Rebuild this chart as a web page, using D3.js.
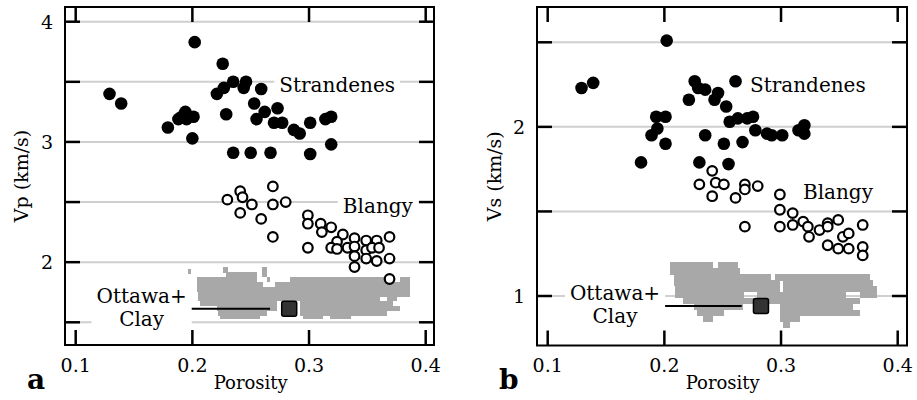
<!DOCTYPE html>
<html>
<head>
<meta charset="utf-8">
<script src="https://cdn.jsdelivr.net/npm/d3@7"></script>
<style>
  body { margin: 0; background: #fff; }
</style>
</head>
<body>
<svg width="917" height="400"></svg>
<script>
// porosity vs velocity, two panels (Vp, Vs)
var svg = d3.select('svg').style('font-family', "'DejaVu Serif', serif");

// x tick values, shared by both panels
var xTicks = [0.1, 0.2, 0.3, 0.4];
var vpTicks = [1.5, 2, 2.5, 3, 3.5, 4];
var vpTickLabels = [2, 3, 4];
var vsTicks = [1, 1.5, 2, 2.5];
var vsTickLabels = [1, 2];

// Strandenes (filled), [porosity, Vp]
var strandenesVp = [
  [0.202,3.83],[0.226,3.65],[0.129,3.40],[0.139,3.32],[0.221,3.40],[0.227,3.45],
  [0.235,3.50],[0.246,3.50],[0.244,3.45],[0.259,3.44],[0.253,3.32],[0.262,3.25],
  [0.273,3.28],[0.255,3.19],[0.270,3.16],[0.277,3.16],[0.287,3.10],[0.292,3.07],
  [0.301,3.16],[0.314,3.19],[0.319,3.21],[0.319,2.98],[0.301,2.90],[0.267,2.91],
  [0.250,2.91],[0.235,2.91],[0.200,3.03],[0.229,3.23],[0.179,3.12],[0.188,3.19],
  [0.194,3.25],[0.195,3.19],[0.201,3.21],[0.191,3.21]
];
// Blangy (open), [porosity, Vp]
var blangyVp = [
  [0.269,2.63],[0.241,2.59],[0.243,2.54],[0.230,2.52],[0.251,2.48],[0.269,2.48],
  [0.280,2.50],[0.241,2.41],[0.259,2.36],[0.269,2.21],[0.299,2.39],[0.299,2.32],
  [0.299,2.12],[0.310,2.32],[0.311,2.25],[0.319,2.29],[0.329,2.23],[0.324,2.17],
  [0.319,2.12],[0.324,2.11],[0.333,2.12],[0.339,2.20],[0.349,2.18],[0.358,2.18],
  [0.369,2.21],[0.339,2.13],[0.349,2.10],[0.354,2.12],[0.360,2.12],[0.339,2.05],
  [0.349,2.03],[0.358,2.01],[0.369,2.03],[0.339,1.96],[0.369,1.86]
];
// Ottawa sand + clay cloud, rows of [Vp, porosity from, porosity to]
var ottawaVpRows = [
  [1.935,0.2265,0.2308],[1.935,0.2594,0.2637],[1.925,0.196,0.199],
  [1.895,0.2308,0.2551],[1.895,0.2290,0.2330],[1.895,0.2600,0.2640],
  [1.855,0.2037,0.2551],[1.855,0.2637,0.2665],[1.855,0.2837,0.3666],[1.855,0.378,0.3866],
  [1.815,0.2037,0.2608],[1.815,0.2708,0.3866],
  [1.775,0.2037,0.3866],
  [1.735,0.2051,0.3866],
  [1.695,0.2051,0.3608],[1.695,0.3666,0.3751],
  [1.655,0.2065,0.2723],[1.655,0.2922,0.3722],
  [1.615,0.2209,0.2723],[1.615,0.2922,0.378],
  [1.575,0.2222,0.2637],[1.575,0.2922,0.3666],
  [1.550,0.2237,0.258],[1.550,0.2950,0.312],[1.550,0.318,0.336]
];
var ottawaVpMean = [0.283, 1.612];
var ottawaVpLine = [0.1965, 0.2666];

// Strandenes (filled), [porosity, Vs]
var strandenesVs = [
  [0.202,2.51],[0.129,2.23],[0.139,2.26],[0.226,2.27],[0.229,2.23],[0.235,2.22],
  [0.246,2.20],[0.261,2.27],[0.221,2.16],[0.243,2.16],[0.253,2.12],[0.193,2.06],
  [0.201,2.06],[0.194,1.99],[0.189,1.95],[0.201,1.90],[0.256,2.03],[0.263,2.05],
  [0.271,2.05],[0.276,2.06],[0.278,1.98],[0.288,1.96],[0.292,1.95],[0.301,1.95],
  [0.315,1.98],[0.320,2.01],[0.320,1.96],[0.235,1.95],[0.251,1.90],[0.267,1.91],
  [0.180,1.79],[0.230,1.79],[0.255,1.78]
];
// Blangy (open), [porosity, Vs]
var blangyVs = [
  [0.241,1.74],[0.230,1.66],[0.244,1.67],[0.251,1.66],[0.269,1.66],[0.280,1.65],
  [0.269,1.63],[0.241,1.59],[0.261,1.58],[0.269,1.41],[0.299,1.60],[0.299,1.51],
  [0.299,1.41],[0.310,1.49],[0.310,1.42],[0.319,1.44],[0.323,1.41],[0.324,1.35],
  [0.333,1.39],[0.340,1.43],[0.340,1.41],[0.349,1.45],[0.340,1.30],[0.349,1.28],
  [0.353,1.35],[0.358,1.37],[0.358,1.28],[0.370,1.42],[0.370,1.29],[0.370,1.24]
];
// Ottawa sand + clay cloud, rows of [Vs, porosity from, porosity to]
var ottawaVsRows = [
  [1.180,0.205,0.242],[1.180,0.246,0.263],
  [1.145,0.205,0.265],
  [1.110,0.208,0.291],[1.110,0.295,0.376],
  [1.075,0.208,0.299],[1.075,0.302,0.379],
  [1.040,0.209,0.299],[1.040,0.302,0.382],
  [1.005,0.209,0.268],[1.005,0.279,0.356],[1.005,0.368,0.382],
  [0.970,0.216,0.282],[0.970,0.288,0.368],
  [0.935,0.225,0.267],[0.935,0.299,0.362],
  [0.900,0.228,0.251],[0.900,0.299,0.368],
  [0.865,0.233,0.242],[0.865,0.299,0.316],
  [0.830,0.302,0.308]
];
var ottawaVsMean = [0.2828, 0.941];
var ottawaVsLine = [0.1963, 0.2663];


function drawPanel(o) {
  var g = svg.append('g');
  var x = d3.scaleLinear().domain([0.1, 0.4]).range(o.xr);
  var y = d3.scaleLinear().domain(o.yd).range(o.yr);
  var f = o.frame, tl = 15;

  // grid lines
  g.selectAll('.grid').data(o.yTicks).enter().append('line')
    .attr('x1', f.l + tl).attr('x2', f.r - tl)
    .attr('y1', d => y(d)).attr('y2', d => y(d))
    .attr('stroke', '#cfcfcf').attr('stroke-width', 2);

  // label text with white box behind it (breaks the grid lines)
  var labels = g.append('g');
  o.labels.forEach(function (lb) {
    var lg = labels.append('g');
    lb.lines.forEach(function (s, i) {
      lg.append('text')
        .attr('x', x(lb.p)).attr('y', y(lb.v) + i * 23)
        .attr('text-anchor', lb.anchor)
        .attr('font-size', 20)
        .text(s);
    });
    var bb = lg.node().getBBox();
    lg.insert('rect', 'text')
      .attr('x', bb.x - 5).attr('y', bb.y - 1)
      .attr('width', bb.width + 10).attr('height', bb.height + 2)
      .attr('fill', '#fff');
  });

  // gray cloud, rows drawn edge to edge
  g.append('g').attr('shape-rendering', 'crispEdges')
    .selectAll('rect').data(o.cloud).enter().append('rect')
    .attr('x', d => x(d[1]))
    .attr('width', d => Math.max(3, x(d[2]) - x(d[1])))
    .attr('y', d => y(d[0]) - o.rowH / 2)
    .attr('height', o.rowH)
    .attr('fill', '#a8a8a8');

  // leader line + mean square
  g.append('line')
    .attr('x1', x(o.line[0])).attr('x2', x(o.line[1]))
    .attr('y1', y(o.mean[1])).attr('y2', y(o.mean[1]))
    .attr('stroke', '#000').attr('stroke-width', 2);
  g.append('rect')
    .attr('x', x(o.mean[0]) - 7.5).attr('y', y(o.mean[1]) - 7.5)
    .attr('width', 15).attr('height', 15).attr('rx', 2)
    .attr('fill', '#333').attr('stroke', '#000').attr('stroke-width', 1.5);

  g.selectAll('.blangy').data(o.open).enter().append('circle')
    .attr('cx', d => x(d[0])).attr('cy', d => y(d[1])).attr('r', 4.8)
    .attr('fill', '#fff').attr('stroke', '#000').attr('stroke-width', 2.2);

  g.selectAll('.strand').data(o.filled).enter().append('circle')
    .attr('cx', d => x(d[0])).attr('cy', d => y(d[1])).attr('r', 6.3)
    .attr('fill', '#000');

  labels.raise();

  // frame and ticks
  g.append('rect')
    .attr('x', f.l).attr('y', f.t).attr('width', f.r - f.l).attr('height', f.b - f.t)
    .attr('fill', 'none').attr('stroke', '#000').attr('stroke-width', 2);
  o.yTicks.forEach(function (t) {
    g.append('line').attr('x1', f.l).attr('x2', f.l + tl).attr('y1', y(t)).attr('y2', y(t))
      .attr('stroke', '#000').attr('stroke-width', 2.5);
    g.append('line').attr('x1', f.r - tl).attr('x2', f.r).attr('y1', y(t)).attr('y2', y(t))
      .attr('stroke', '#000').attr('stroke-width', 2.5);
  });
  xTicks.forEach(function (t) {
    g.append('line').attr('x1', x(t)).attr('x2', x(t)).attr('y1', f.b).attr('y2', f.b - tl)
      .attr('stroke', '#000').attr('stroke-width', 2.5);
    g.append('line').attr('x1', x(t)).attr('x2', x(t)).attr('y1', f.t).attr('y2', f.t + tl)
      .attr('stroke', '#000').attr('stroke-width', 2.5);
    g.append('text').attr('x', x(t)).attr('y', 372)
      .attr('text-anchor', 'middle').attr('font-size', 19)
      .text(d3.format('.1f')(t));
  });
  o.yLabels.forEach(function (t) {
    g.append('text').attr('x', f.l - 12).attr('y', y(t) + 7)
      .attr('text-anchor', 'end').attr('font-size', 19).text(t);
  });

  g.append('text').attr('x', (o.xr[0] + o.xr[1]) / 2).attr('y', 389)
    .attr('text-anchor', 'middle').attr('font-size', 18).text('Porosity');
  g.append('text')
    .attr('transform', 'translate(' + o.yTitleX + ',' + ((f.t + f.b) / 2) + ') rotate(-90)')
    .attr('text-anchor', 'middle').attr('font-size', 19).text(o.yTitle);
  g.append('text').attr('x', o.letterX).attr('y', 389)
    .attr('font-weight', 'bold').attr('font-size', 28).text(o.letter);
}

drawPanel({
  xr: [75.7, 425.7], yd: [1.5, 4], yr: [322.3, 21.7],
  frame: {l: 65, r: 434, t: 7, b: 345},
  yTicks: vpTicks, yLabels: vpTickLabels, yTitle: 'Vp (km/s)', yTitleX: 28,
  filled: strandenesVp, open: blangyVp, cloud: ottawaVpRows, rowH: 5.2,
  mean: ottawaVpMean, line: ottawaVpLine,
  labels: [
    {lines: ['Strandenes'], p: 0.2745, v: 3.415, anchor: 'start'},
    {lines: ['Blangy'], p: 0.329, v: 2.408, anchor: 'start'},
    {lines: ['Ottawa+', 'Clay'], p: 0.1565, v: 1.66, anchor: 'middle'}
  ],
  letter: 'a', letterX: 27
});

drawPanel({
  xr: [547.7, 897.7], yd: [1, 2.5], yr: [296, 42.3],
  frame: {l: 537, r: 907, t: 7, b: 345.5},
  yTicks: vsTicks, yLabels: vsTickLabels, yTitle: 'Vs (km/s)', yTitleX: 501,
  filled: strandenesVs, open: blangyVs, cloud: ottawaVsRows, rowH: 6.3,
  mean: ottawaVsMean, line: ottawaVsLine,
  labels: [
    {lines: ['Strandenes'], p: 0.2734, v: 2.206, anchor: 'start'},
    {lines: ['Blangy'], p: 0.3188, v: 1.573, anchor: 'start'},
    {lines: ['Ottawa+', 'Clay'], p: 0.1577, v: 0.976, anchor: 'middle'}
  ],
  letter: 'b', letterX: 499
});
</script>
</body>
</html>
